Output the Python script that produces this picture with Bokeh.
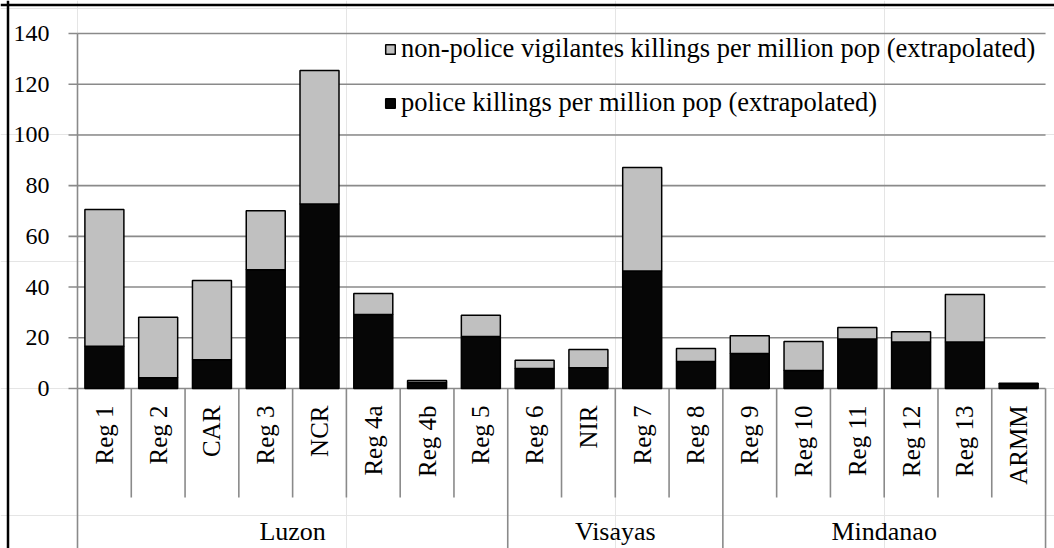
import math
from bokeh.plotting import figure
from bokeh.models import Range1d, Legend, LegendItem, ColumnDataSource, Span
from bokeh.core.properties import value
from bokeh.embed import file_html
from bokeh.resources import INLINE

# ---------------- data ----------------
regions = ["Reg 1", "Reg 2", "CAR", "Reg 3", "NCR", "Reg 4a", "Reg 4b", "Reg 5",
           "Reg 6", "NIR", "Reg 7", "Reg 8",
           "Reg 9", "Reg 10", "Reg 11", "Reg 12", "Reg 13", "ARMM"]
groups = ["Luzon", "Visayas", "Mindanao"]
group_sizes = [8, 4, 6]
police = [16.7, 4.2, 11.3, 46.8, 72.8, 29.2, 2.4, 20.5,
          7.9, 8.2, 46.3, 10.6,
          13.8, 7.1, 19.5, 18.3, 18.3, 1.9]
non_police = [53.9, 23.9, 31.3, 23.3, 52.6, 8.3, 0.8, 8.4,
              3.2, 7.2, 40.9, 5.2,
              7.0, 11.4, 4.6, 4.1, 18.8, 0.2]
y_ticks = [0, 20, 40, 60, 80, 100, 120, 140]
series_labels = ["non-police vigilantes killings per million pop (extrapolated)",
                 "police killings per million pop (extrapolated)"]

# ---------------- layout ----------------
W, H = 1054, 548
X0_PX = 77        # frame px of x = 0
Y0_PX = 388       # frame px (from top) of y = 0
PX_CAT = 53.78    # px per category
PX_UNIT = 2.5357  # px per value unit
FONT_NAME = "Liberation Serif"
FONT = value(FONT_NAME)
GRID = "#8a8a8a"

x_range = Range1d(-X0_PX / PX_CAT, (W - X0_PX) / PX_CAT)
y_range = Range1d(-(H - Y0_PX) / PX_UNIT, Y0_PX / PX_UNIT)

p = figure(width=W, height=H, x_range=x_range, y_range=y_range,
           output_backend="svg", toolbar_location=None,
           x_axis_location=None, y_axis_location=None,
           min_border=0, outline_line_color=None,
           background_fill_color="white", border_fill_color="white")

n = len(regions)
ymax = y_ticks[-1]
ybot = y_range.start
tick_len = 9 / PX_CAT
sep_bottom = -(109) / PX_UNIT

# horizontal gridlines + axis line
p.segment(x0=[0] * len(y_ticks), y0=y_ticks, x1=[n] * len(y_ticks), y1=y_ticks,
          line_color=GRID, line_width=1.6)
# y axis line and ticks
p.segment(x0=[0], y0=[ymax], x1=[0], y1=[ybot], line_color=GRID, line_width=1.6)
p.segment(x0=[-tick_len] * len(y_ticks), y0=y_ticks, x1=[0] * len(y_ticks), y1=y_ticks,
          line_color=GRID, line_width=1.6)

# category separators
bounds = [0]
for s in group_sizes:
    bounds.append(bounds[-1] + s)
inner = [i for i in range(1, n) if i not in bounds]
p.segment(x0=inner, y0=[0] * len(inner), x1=inner, y1=[sep_bottom] * len(inner),
          line_color=GRID, line_width=1.6)
gb = bounds[1:]
p.segment(x0=gb, y0=[0] * len(gb), x1=gb, y1=[ybot] * len(gb),
          line_color=GRID, line_width=1.6)

# bars
src = ColumnDataSource(dict(x=[i + 0.5 for i in range(n)], police=police, non_police=non_police))
rs = p.vbar_stack(["police", "non_police"], x="x", width=0.725, source=src,
                  fill_color=["#060606", "#c0c0c0"], line_color="black", line_width=1.5)

# y tick labels
p.text(x=[-28 / PX_CAT] * len(y_ticks), y=y_ticks, text=[str(t) for t in y_ticks],
       text_align="right", text_baseline="middle", text_font=FONT,
       text_font_size="24px", text_color="black")

# category labels (rotated)
p.text(x=[i + 0.5 for i in range(n)], y=[-17 / PX_UNIT] * n, text=regions,
       angle=math.pi / 2, text_align="right", text_baseline="middle",
       text_font=FONT, text_font_size="25px", text_color="black")

# group labels
centers = [(bounds[i] + bounds[i + 1]) / 2 for i in range(len(groups))]
p.text(x=centers, y=[-143 / PX_UNIT] * len(groups), text=groups,
       text_align="center", text_baseline="middle",
       text_font=FONT, text_font_size="26px", text_color="black")

# outer frame (left & top)
p.add_layout(Span(location=(Y0_PX - 4.5) / PX_UNIT, dimension="width",
                  line_color="black", line_width=2.5))
p.add_layout(Span(location=-(X0_PX - 7.5) / PX_CAT, dimension="height",
                  line_color="black", line_width=2.5))

LBL_H, LBL_GAP = 30, 23
legend = Legend(items=[LegendItem(label=series_labels[0], renderers=[rs[1]]),
                       LegendItem(label=series_labels[1], renderers=[rs[0]])],
                location=(384, H - 35 - (2 * LBL_H + LBL_GAP)), orientation="vertical",
                padding=0, margin=0, spacing=LBL_GAP, label_height=LBL_H,
                glyph_height=12, glyph_width=12, label_standoff=5,
                label_text_font=FONT_NAME, label_text_font_size="26.5px",
                label_text_color="black", border_line_color=None,
                background_fill_alpha=0)
p.add_layout(legend)

open("out.html", "w").write(file_html(p, INLINE))
